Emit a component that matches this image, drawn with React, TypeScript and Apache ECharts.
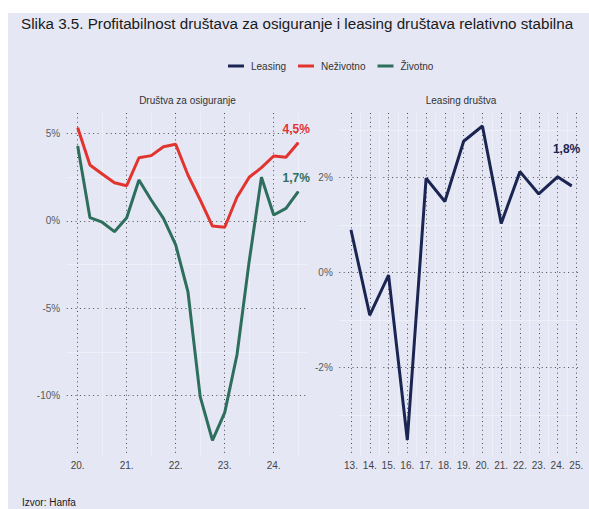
import React, { useEffect, useRef } from "react";
import * as echarts from "echarts";

// ---- data ----
const quarters = [
  "20Q1", "20Q2", "20Q3", "20Q4",
  "21Q1", "21Q2", "21Q3", "21Q4",
  "22Q1", "22Q2", "22Q3", "22Q4",
  "23Q1", "23Q2", "23Q3", "23Q4",
  "24Q1", "24Q2", "24Q3",
];
const nezivotno = [5.34, 3.2, 2.69, 2.19, 2.02, 3.62, 3.74, 4.25, 4.39, 2.63, 1.21, -0.29, -0.36, 1.36, 2.5, 3.05, 3.72, 3.65, 4.48];
const zivotno = [4.29, 0.19, -0.07, -0.61, 0.19, 2.35, 1.2, 0.15, -1.37, -4.05, -10.05, -12.55, -10.97, -7.67, -2.3, 2.5, 0.34, 0.72, 1.68];

const leasingYears = [13, 14, 15, 16, 17, 18, 19, 20, 21, 22, 23, 24, 24.75];
const leasing = [0.89, -0.9, -0.06, -3.53, 1.98, 1.49, 2.76, 3.08, 1.03, 2.12, 1.65, 2.01, 1.82];

const leftYRange = [-13.45, 6.18];
const rightYRange = [-3.867, 3.354];
const rightXRange = [13, 25];
const leftMinor = [-7.5, -2.5, 2.5];
const rightMinor = [-3, -1, 1, 3];

const seriesNames = ["Leasing", "Neživotno", "Životno"];
const colors = { Leasing: "#1b2552", "Neživotno": "#e2342f", "Životno": "#2d6e5d" };

const FONT = "Liberation Sans, Arial, Helvetica, sans-serif";
const DOT = { color: "#4d4d4d", width: 1, type: [1, 3.4] as any };
const FAINT = "#eef0f8";
const BG = "#e5e7f4";

const pct = (v: number) => `${v.toFixed(1).replace(".", ",")}%`;

function withLastLabel(values: any[], color: string, distance: number, offsetX: number) {
  return values.map((v, i) =>
    i === values.length - 1
      ? {
          value: v,
          label: {
            show: true,
            position: "top",
            distance,
            offset: [offsetX, 0],
            formatter: () => pct(Array.isArray(v) ? v[1] : v),
            color,
            fontFamily: FONT,
            fontSize: 12,
            fontWeight: "bold",
          },
        }
      : { value: v }
  );
}

export default function App() {
  const ref = useRef<HTMLDivElement>(null);
  useEffect(() => {
    if (!ref.current) return;
    const chart = echarts.init(ref.current, undefined, { renderer: "svg" });
    const gridTop = 113;
    const gridH = 343;
    const yLabel = (interval: number) => ({
      showMinLabel: false,
      showMaxLabel: false,
      color: "#5a5a5a",
      fontFamily: FONT,
      fontSize: 10,
      margin: 6.5,
      formatter: (v: number) => (Math.abs(v / interval - Math.round(v / interval)) < 1e-6 ? `${Math.round(v)}%` : ""),
    });
    const minorLines = (values: number[]) => ({
      silent: true, z: 1, symbol: ["none", "none"], label: { show: false },
      lineStyle: { color: FAINT, type: "solid", width: 1 },
      data: values.map((v) => ({ yAxis: v })),
    });
    const option: any = {
      animation: false,
      backgroundColor: BG,
      textStyle: { fontFamily: FONT },
      graphic: [
        { type: "rect", shape: { x: 0, y: 0, width: 589, height: 13 }, style: { fill: "#ffffff" }, silent: true },
        { type: "rect", shape: { x: 0, y: 0, width: 8, height: 509 }, style: { fill: "#ffffff" }, silent: true },
        {
          type: "text", x: 21, y: 23,
          style: { text: "Slika 3.5. Profitabilnost društava za osiguranje i leasing društava relativno stabilna", fill: "#1a1a1a", font: `15.2px ${FONT}`, verticalAlign: "middle", align: "left" },
        },
        {
          type: "text", x: 187.5, y: 100.5,
          style: { text: "Društva za osiguranje", fill: "#333333", font: `10px ${FONT}`, verticalAlign: "middle", align: "center" },
        },
        {
          type: "text", x: 461, y: 100.5,
          style: { text: "Leasing društva", fill: "#333333", font: `10px ${FONT}`, verticalAlign: "middle", align: "center" },
        },
        {
          type: "text", x: 22, y: 502,
          style: { text: "Izvor: Hanfa", fill: "#1a1a1a", font: `10px ${FONT}`, verticalAlign: "middle", align: "left" },
        },
      ],
      legend: {
        data: seriesNames,
        left: 223,
        top: 56,
        icon: "rect",
        itemWidth: 16,
        itemHeight: 3,
        itemGap: 12,
        textStyle: { fontSize: 10, color: "#333333", fontFamily: FONT, padding: [0, 0, 0, 2] },
      },
      grid: [
        { left: 66.7, top: gridTop, width: 240.3, height: gridH, containLabel: false, outerBoundsMode: "none" },
        { left: 77.7, top: gridTop, width: 220.5, height: gridH, containLabel: false, outerBoundsMode: "none" },
        { left: 339.3, top: gridTop, width: 238.7, height: gridH, containLabel: false, outerBoundsMode: "none" },
        { left: 351, top: gridTop, width: 225.3, height: gridH, containLabel: false, outerBoundsMode: "none" },
      ],
      xAxis: [
        { gridIndex: 0, type: "value", min: 0, max: 1, show: false },
        {
          gridIndex: 1, type: "category", data: quarters, boundaryGap: false,
          axisLine: { show: false }, axisTick: { show: false },
          axisLabel: {
            interval: (i: number) => i % 4 === 0,
            formatter: (v: string) => `${v.slice(0, 2)}.`,
            color: "#444444", fontFamily: FONT, fontSize: 10, margin: 4,
          },
          splitLine: { show: true, interval: (i: number) => i % 4 === 0, lineStyle: DOT },
        },
        {
          gridIndex: 1, type: "category", data: quarters, boundaryGap: false, position: "top",
          axisLine: { show: false }, axisTick: { show: false }, axisLabel: { show: false },
          splitLine: { show: true, interval: (i: number) => i % 4 === 2, lineStyle: { color: FAINT, width: 1 } },
        },
        { gridIndex: 2, type: "value", min: 0, max: 1, show: false },
        {
          gridIndex: 3, type: "value", min: rightXRange[0], max: rightXRange[1], interval: 1,
          axisLine: { show: false }, axisTick: { show: false },
          axisLabel: { formatter: (v: number) => `${v}.`, color: "#444444", fontFamily: FONT, fontSize: 10, margin: 4 },
          splitLine: { show: true, lineStyle: DOT },
          minorTick: { show: false, splitNumber: 2 },
          minorSplitLine: { show: true, lineStyle: { color: FAINT, width: 1 } },
        },
      ],
      yAxis: [
        {
          gridIndex: 0, type: "value", min: leftYRange[0], max: leftYRange[1], splitNumber: 4,
          axisLine: { show: false }, axisTick: { show: false },
          axisLabel: yLabel(5),
          splitLine: { show: true, showMinLine: false, showMaxLine: false, lineStyle: DOT },
        },
        { gridIndex: 1, type: "value", min: leftYRange[0], max: leftYRange[1], show: false },
        {
          gridIndex: 2, type: "value", min: rightYRange[0], max: rightYRange[1], splitNumber: 4,
          axisLine: { show: false }, axisTick: { show: false },
          axisLabel: yLabel(2),
          splitLine: { show: true, showMinLine: false, showMaxLine: false, lineStyle: DOT },
        },
        { gridIndex: 3, type: "value", min: rightYRange[0], max: rightYRange[1], show: false },
      ],
      series: [
        { type: "line", xAxisIndex: 0, yAxisIndex: 0, data: [], silent: true, z: 0, markLine: minorLines(leftMinor) },
        { type: "line", xAxisIndex: 3, yAxisIndex: 2, data: [], silent: true, z: 0, markLine: minorLines(rightMinor) },
        {
          name: "Neživotno", type: "line", xAxisIndex: 1, yAxisIndex: 1,
          data: withLastLabel(nezivotno, colors["Neživotno"], 7, -2),
          symbol: "circle", symbolSize: 1, showSymbol: true,
          itemStyle: { color: colors["Neživotno"] },
          lineStyle: { color: colors["Neživotno"], width: 3 }, z: 6,
        },
        {
          name: "Životno", type: "line", xAxisIndex: 1, yAxisIndex: 1,
          data: withLastLabel(zivotno, colors["Životno"], 7.5, -2),
          symbol: "circle", symbolSize: 1, showSymbol: true,
          itemStyle: { color: colors["Životno"] },
          lineStyle: { color: colors["Životno"], width: 3 }, z: 6,
        },
        {
          name: "Leasing", type: "line", xAxisIndex: 4, yAxisIndex: 3,
          data: withLastLabel(leasingYears.map((x, i) => [x, leasing[i]]), colors.Leasing, 30, -5),
          symbol: "circle", symbolSize: 1, showSymbol: true,
          itemStyle: { color: colors.Leasing },
          lineStyle: { color: colors.Leasing, width: 3 }, z: 6,
        },
      ],
    };
    chart.setOption(option);
    return () => chart.dispose();
  }, []);
  return (
    <div
      ref={ref}
      style={{ position: "absolute", left: 0, top: 0, width: 589, height: 509 }}
    />
  );
}
